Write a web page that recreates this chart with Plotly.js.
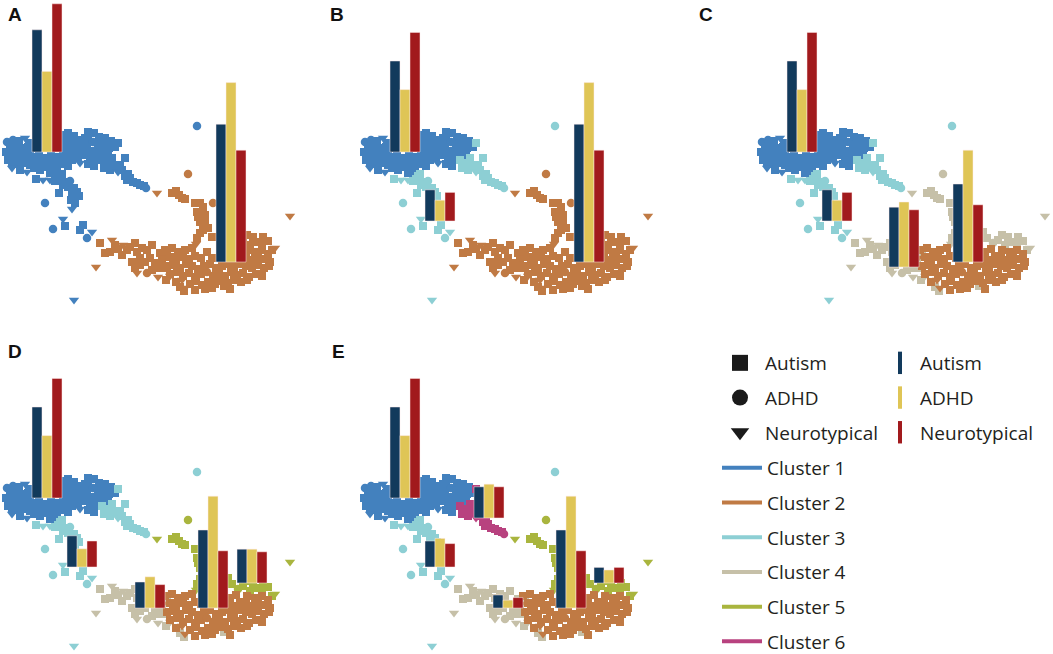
<!DOCTYPE html>
<html><head><meta charset="utf-8">
<script src="https://cdn.plot.ly/plotly-3.0.1.min.js"></script>
<style>html,body{margin:0;padding:0;background:#fff}#chart{width:1053px;height:654px}</style>
</head><body><div id="chart"></div>
<script>
// ---- DATA: embedding points [dim1, dim2, diagnosis]  S = Autism, C = ADHD, T = Neurotypical
// group P: main lobe
const pointsP = [
[7,158,'C'],[13,160,'C'],[19,159,'S'],[25,162,'T'],[29,157,'S'],[10,153,'S'],[16,154,'S'],[22,152,'S'],[28,153,'S'],
[6,148,'S'],[12,147,'S'],[18,149,'S'],[24,146,'S'],[30,148,'S'],[8,140,'S'],[15,143,'S'],[21,141,'S'],[27,142,'S'],
[33,143,'S'],[39,144,'S'],[45,142,'S'],[51,144,'S'],[57,143,'S'],[12,137,'S'],[18,136,'S'],[24,137,'S'],[30,135,'S'],
[36,138,'S'],[42,136,'S'],[48,139,'S'],[54,137,'S'],[60,140,'S'],[12,132,'T'],[20,130,'S'],[27,128,'T'],[34,132,'S'],
[40,130,'S'],[47,133,'S'],[53,131,'S'],[36,155,'S'],[45,160,'S'],[55,154,'S'],[63,165,'S'],[68,167,'S'],[74,164,'S'],
[66,160,'S'],[72,158,'S'],[78,160,'S'],[64,154,'S'],[70,152,'S'],[76,154,'S'],[82,156,'S'],[63,148,'S'],[69,146,'S'],
[75,148,'S'],[81,150,'S'],[66,142,'S'],[72,140,'S'],[78,143,'S'],[62,136,'S'],[68,134,'S'],[85,162,'S'],[88,168,'S'],
[94,167,'S'],[99,163,'S'],[105,162,'S'],[111,159,'S'],[88,160,'S'],[93,158,'C'],[98,155,'S'],[104,154,'S'],[109,152,'S'],
[115,153,'S'],[87,152,'S'],[92,149,'S'],[97,147,'S'],[103,148,'S'],[108,145,'S'],[90,142,'S'],[95,140,'S'],[96,144,'S'],
[88,136,'S'],[94,134,'S'],[85,145,'S'],[80,137,'T'],[57,129,'S'],[50,127,'S']
];
// group M: chain below the right lobe
const pointsM = [
[118,157,'S'],[102,140,'S'],[107,137,'S'],[112,142,'S'],[104,132,'S'],[110,130,'S'],[115,134,'S'],[118,128,'T'],
[122,130,'S'],[125,124,'S'],[128,126,'S'],[130,122,'S'],[127,120,'S'],[133,118,'S'],[137,117,'S'],[140,115,'S'],
[144,114,'S'],[146,112,'C'],[120,135,'S'],[125,142,'S']
];
// group L: lower-left arm
const pointsL = [
[36,121,'S'],[43,120,'T'],[50,120,'T'],[55,119,'S'],[60,124,'S'],[58,121,'S'],[62,126,'S'],[65,118,'S'],[70,119,'C'],
[63,115,'S'],[68,113,'S'],[74,112,'S'],[77,108,'S'],[59,107,'S'],[72,105,'S'],[79,104,'S'],[71,100,'S'],[75,97,'S'],
[72,91,'T'],[45,97,'C'],[63,81,'T'],[65,74,'S'],[53,71,'C'],[80,70,'S'],[83,75,'S'],[92,68,'T'],[87,62,'C'],
[74,0,'T'],[197,174,'C']
];
// group G: left part of the lower arc
const pointsG = [
[100,57,'S'],[112,60,'T'],[115,55,'S'],[123,55,'T'],[130,53,'S'],[105,47,'S'],[110,48,'S'],[118,51,'S'],[122,45,'S'],
[127,50,'S'],[96,33,'T'],[137,48,'S'],[142,52,'S'],[147,50,'S'],[140,42,'S'],[135,32,'S'],[140,35,'S'],[137,27,'T'],
[147,27,'C'],[152,30,'S'],[158,23,'T'],[157,32,'S'],[162,40,'S'],[167,48,'S'],[160,47,'S'],[145,38,'S'],[132,38,'S'],
[150,42,'S'],[155,37,'S'],[165,32,'S'],[180,13,'S'],[184,9,'S'],[224,14,'S'],[170,24,'T'],[166,20,'S'],[152,55,'S'],
[135,57,'S']
];
// group O: rising strip and upper right of the arc
const pointsO = [
[188,126,'C'],[157,107,'T'],[172,107,'S'],[179,105,'S'],[182,102,'S'],[185,101,'S'],[176,109,'S'],[195,97,'S'],
[200,97,'S'],[203,93,'S'],[197,88,'S'],[198,83,'S'],[205,85,'S'],[200,78,'S'],[205,77,'S'],[203,70,'S'],[200,67,'S'],
[208,72,'S'],[197,62,'S'],[213,97,'C'],[212,63,'S'],[196,56,'T'],[263,63,'S'],[253,63,'S'],[257,58,'S'],[247,65,'S'],
[250,55,'S'],[272,50,'S'],[275,52,'T'],[262,55,'S'],[243,60,'S'],[232,62,'S'],[238,57,'C'],[268,59,'S'],[290,84,'T'],
[228,68,'S'],[222,64,'S']
];
// group R: bottom right of the arc
const pointsR = [
[165,50,'S'],[172,52,'S'],[178,48,'S'],[185,50,'S'],[192,52,'S'],[247,50,'S'],[255,48,'S'],[262,50,'S'],[268,46,'S'],
[163,42,'T'],[170,43,'S'],[176,40,'S'],[183,43,'S'],[189,41,'S'],[195,44,'S'],[201,42,'S'],[240,44,'S'],[246,42,'S'],
[252,40,'S'],[258,43,'S'],[264,41,'S'],[270,38,'S'],[167,34,'S'],[173,35,'S'],[180,32,'S'],[186,36,'S'],[192,34,'S'],
[198,31,'S'],[204,34,'S'],[210,36,'S'],[216,32,'S'],[222,34,'S'],[228,36,'S'],[234,33,'S'],[240,36,'S'],[246,34,'S'],
[252,32,'S'],[258,35,'S'],[264,32,'S'],[269,34,'S'],[170,26,'S'],[177,28,'S'],[183,24,'S'],[189,27,'S'],[195,23,'S'],
[201,26,'S'],[207,28,'C'],[213,24,'S'],[219,27,'S'],[225,24,'S'],[231,28,'S'],[237,25,'S'],[243,27,'S'],[249,23,'S'],
[256,26,'S'],[262,24,'S'],[176,18,'S'],[182,20,'T'],[190,16,'S'],[196,19,'S'],[202,15,'S'],[208,18,'S'],[215,16,'S'],
[221,19,'S'],[228,17,'S'],[234,20,'S'],[241,18,'S'],[247,20,'S'],[185,12,'T'],[195,10,'S'],[205,11,'S'],[212,12,'S'],
[230,11,'S'],[230,48,'S'],[236,51,'S'],[226,42,'S'],[233,40,'S'],[220,45,'S'],[212,42,'S'],[207,48,'S']
];
// cluster of each point group in panels A..E (k = 2..6)
const clustersP = [1,1,1,1,1];
const clustersM = [1,3,3,3,6];
const clustersL = [1,3,3,3,3];
const clustersG = [2,2,4,4,4];
const clustersO = [2,2,4,5,5];
const clustersR = [2,2,2,2,2];

const panelLetters = ['A','B','C','D','E'];
const clusterNames = ['Cluster 1','Cluster 2','Cluster 3','Cluster 4','Cluster 5','Cluster 6'];
const diagnosisNames = ['Autism','ADHD','Neurotypical'];
// percentage of each diagnostic group falling in each cluster (inset bar charts)
const barClusters = [[1,2],[1,3,2],[1,3,4,2],[1,3,4,2,5],[1,3,6,4,2,5]];
const autismPct = [[47,53],[35,12,53],[35,12,23,30],[35,12,10,30,13],[35,10,12,5,30,6]];
const adhdPct   = [[31,69],[24,8,69],[24,8,25,43],[24,7,12,43,13],[24,11,13,3,43,5]];
const ntPct     = [[57,43],[46,11,43],[46,11,22,22],[46,10,9,22,12],[46,9,12,4,22,6]];

// ---- LAYOUT / STYLE (positions and sizes, not data)
const W = 1053, H = 654, PANEL_H = 306;
const panelBox = [{l:0,t:0,w:330},{l:358,t:0,w:330},{l:755,t:0,w:298},{l:0,t:346,w:330},{l:358,t:346,w:330}];
const labelPos = [[6,15],[328,15],[697,14],[6,352],[330,352]];
const insetLeft = [[32,216],[32,67,216],[32,67,134,198],[32,67,135,198,237],[32,67,116,135,198,236]];
const insetBase = [[148,38],[148,79,38],[148,79,33,38],[148,79,38,38,63],[148,79,128,38,38,63]];
const BAR_SCALE = 2.6, BAR_W = 10;
const clusterColors = {1:'#4381be',2:'#c07a44',3:'#8dcfd4',4:'#c6c0a8',5:'#a9b53e',6:'#b8427f'};
const barColors = ['#123a5c','#dfc556','#a11a1d'];
const symbolOf = {S:'square', C:'circle', T:'triangle-down'};
const sizeOf = {S:8, C:8.5, T:9};

const groups = [[pointsP,clustersP],[pointsM,clustersM],[pointsL,clustersL],[pointsG,clustersG],[pointsO,clustersO],[pointsR,clustersR]];
const sfx = i => (i === 1 ? '' : String(i));

const traces = [];
const layout = {
  width: W, height: H, margin:{l:0,r:0,t:0,b:0,autoexpand:false}, paper_bgcolor:'#fff', plot_bgcolor:'rgba(0,0,0,0)',
  barmode:'overlay', showlegend:true, annotations:[], hovermode:false
};

panelLetters.forEach((letter, p) => {
  const box = panelBox[p];
  const main = 2*p+1, over = 2*p+2;
  const xd = [box.l/W, (box.l+box.w)/W];
  const yd = [1-(box.t+PANEL_H)/H, 1-box.t/H];
  const xr = [0, box.w], yr = [-6, 300];
  layout['xaxis'+sfx(main)] = {domain:xd, range:xr, visible:false, fixedrange:true, anchor:'y'+sfx(main)};
  layout['yaxis'+sfx(main)] = {domain:yd, range:yr, visible:false, fixedrange:true, anchor:'x'+sfx(main)};
  layout['xaxis'+over] = {domain:xd, range:xr, visible:false, fixedrange:true, anchor:'y'+over, overlaying:'x'+sfx(main)};
  layout['yaxis'+over] = {domain:yd, range:yr, visible:false, fixedrange:true, anchor:'x'+over, overlaying:'y'+sfx(main)};

  const xs=[], ys=[], cols=[], syms=[], sizes=[];
  groups.forEach(([pts, cl]) => {
    pts.forEach(pt => {
      xs.push(pt[0]); ys.push(pt[1]);
      cols.push(clusterColors[cl[p]]); syms.push(symbolOf[pt[2]]); sizes.push(sizeOf[pt[2]]);
    });
  });
  traces.push({type:'scatter', mode:'markers', x:xs, y:ys, xaxis:'x'+sfx(main), yaxis:'y'+sfx(main),
    marker:{color:cols, symbol:syms, size:sizes, opacity:1, line:{width:0}}, showlegend:false, hoverinfo:'skip'});

  [autismPct, adhdPct, ntPct].forEach((pct, d) => {
    traces.push({type:'bar', xaxis:'x'+over, yaxis:'y'+over, showlegend:false, hoverinfo:'skip',
      x: insetLeft[p].map(l => l + BAR_W*d + BAR_W/2),
      base: insetBase[p],
      y: pct[p].map(v => v*BAR_SCALE),
      width: BAR_W,
      marker:{color:barColors[d], line:{color:'rgba(255,235,235,0.7)', width:0.7}}});
  });

  layout.annotations.push({xref:'paper', yref:'paper', x:labelPos[p][0]/W, y:1-labelPos[p][1]/H,
    xanchor:'left', yanchor:'middle', showarrow:false, text:'<b>'+letter+'</b>',
    font:{family:'Liberation Sans, Arial, sans-serif', size:19, color:'#111'}});
});

// ---- legends
const legFont = {family:'Open Sans, Noto Sans, sans-serif', size:19, color:'#231f20'};
const shapeSyms = ['square','circle','triangle-down'];
diagnosisNames.forEach((n, i) => {
  traces.push({type:'scatter', mode:'markers', x:[null], y:[null], name:n, legend:'legend',
    legendgroup:'s'+i, marker:{symbol:shapeSyms[i], size:16, color:'#1a1a1a'}, hoverinfo:'skip'});
});
diagnosisNames.forEach((n, i) => {
  traces.push({type:'scatter', mode:'markers', x:[null], y:[null], name:n, legend:'legend2',
    legendgroup:'b'+i, marker:{symbol:'line-ns-open', size:16, color:barColors[i], line:{width:4, color:barColors[i]}}, hoverinfo:'skip'});
});
clusterNames.forEach((n, i) => {
  traces.push({type:'scatter', mode:'lines', x:[null], y:[null], name:n, legend:'legend3',
    legendgroup:'c'+i, line:{width:4, color:clusterColors[i+1]}, hoverinfo:'skip'});
});
const legBase = {xanchor:'left', yanchor:'top', font:legFont, bgcolor:'rgba(0,0,0,0)', borderwidth:0,
  tracegroupgap:7, traceorder:'grouped', itemclick:false, itemdoubleclick:false};
layout.legend  = Object.assign({}, legBase, {x:715/W, y:1-344/H, itemwidth:40});
layout.legend2 = Object.assign({}, legBase, {x:880/W, y:1-344/H});
layout.legend3 = Object.assign({}, legBase, {x:717/W, y:1-449/H, itemwidth:40});

Plotly.newPlot('chart', traces, layout, {staticPlot:true, displayModeBar:false});
</script>
</body></html>
